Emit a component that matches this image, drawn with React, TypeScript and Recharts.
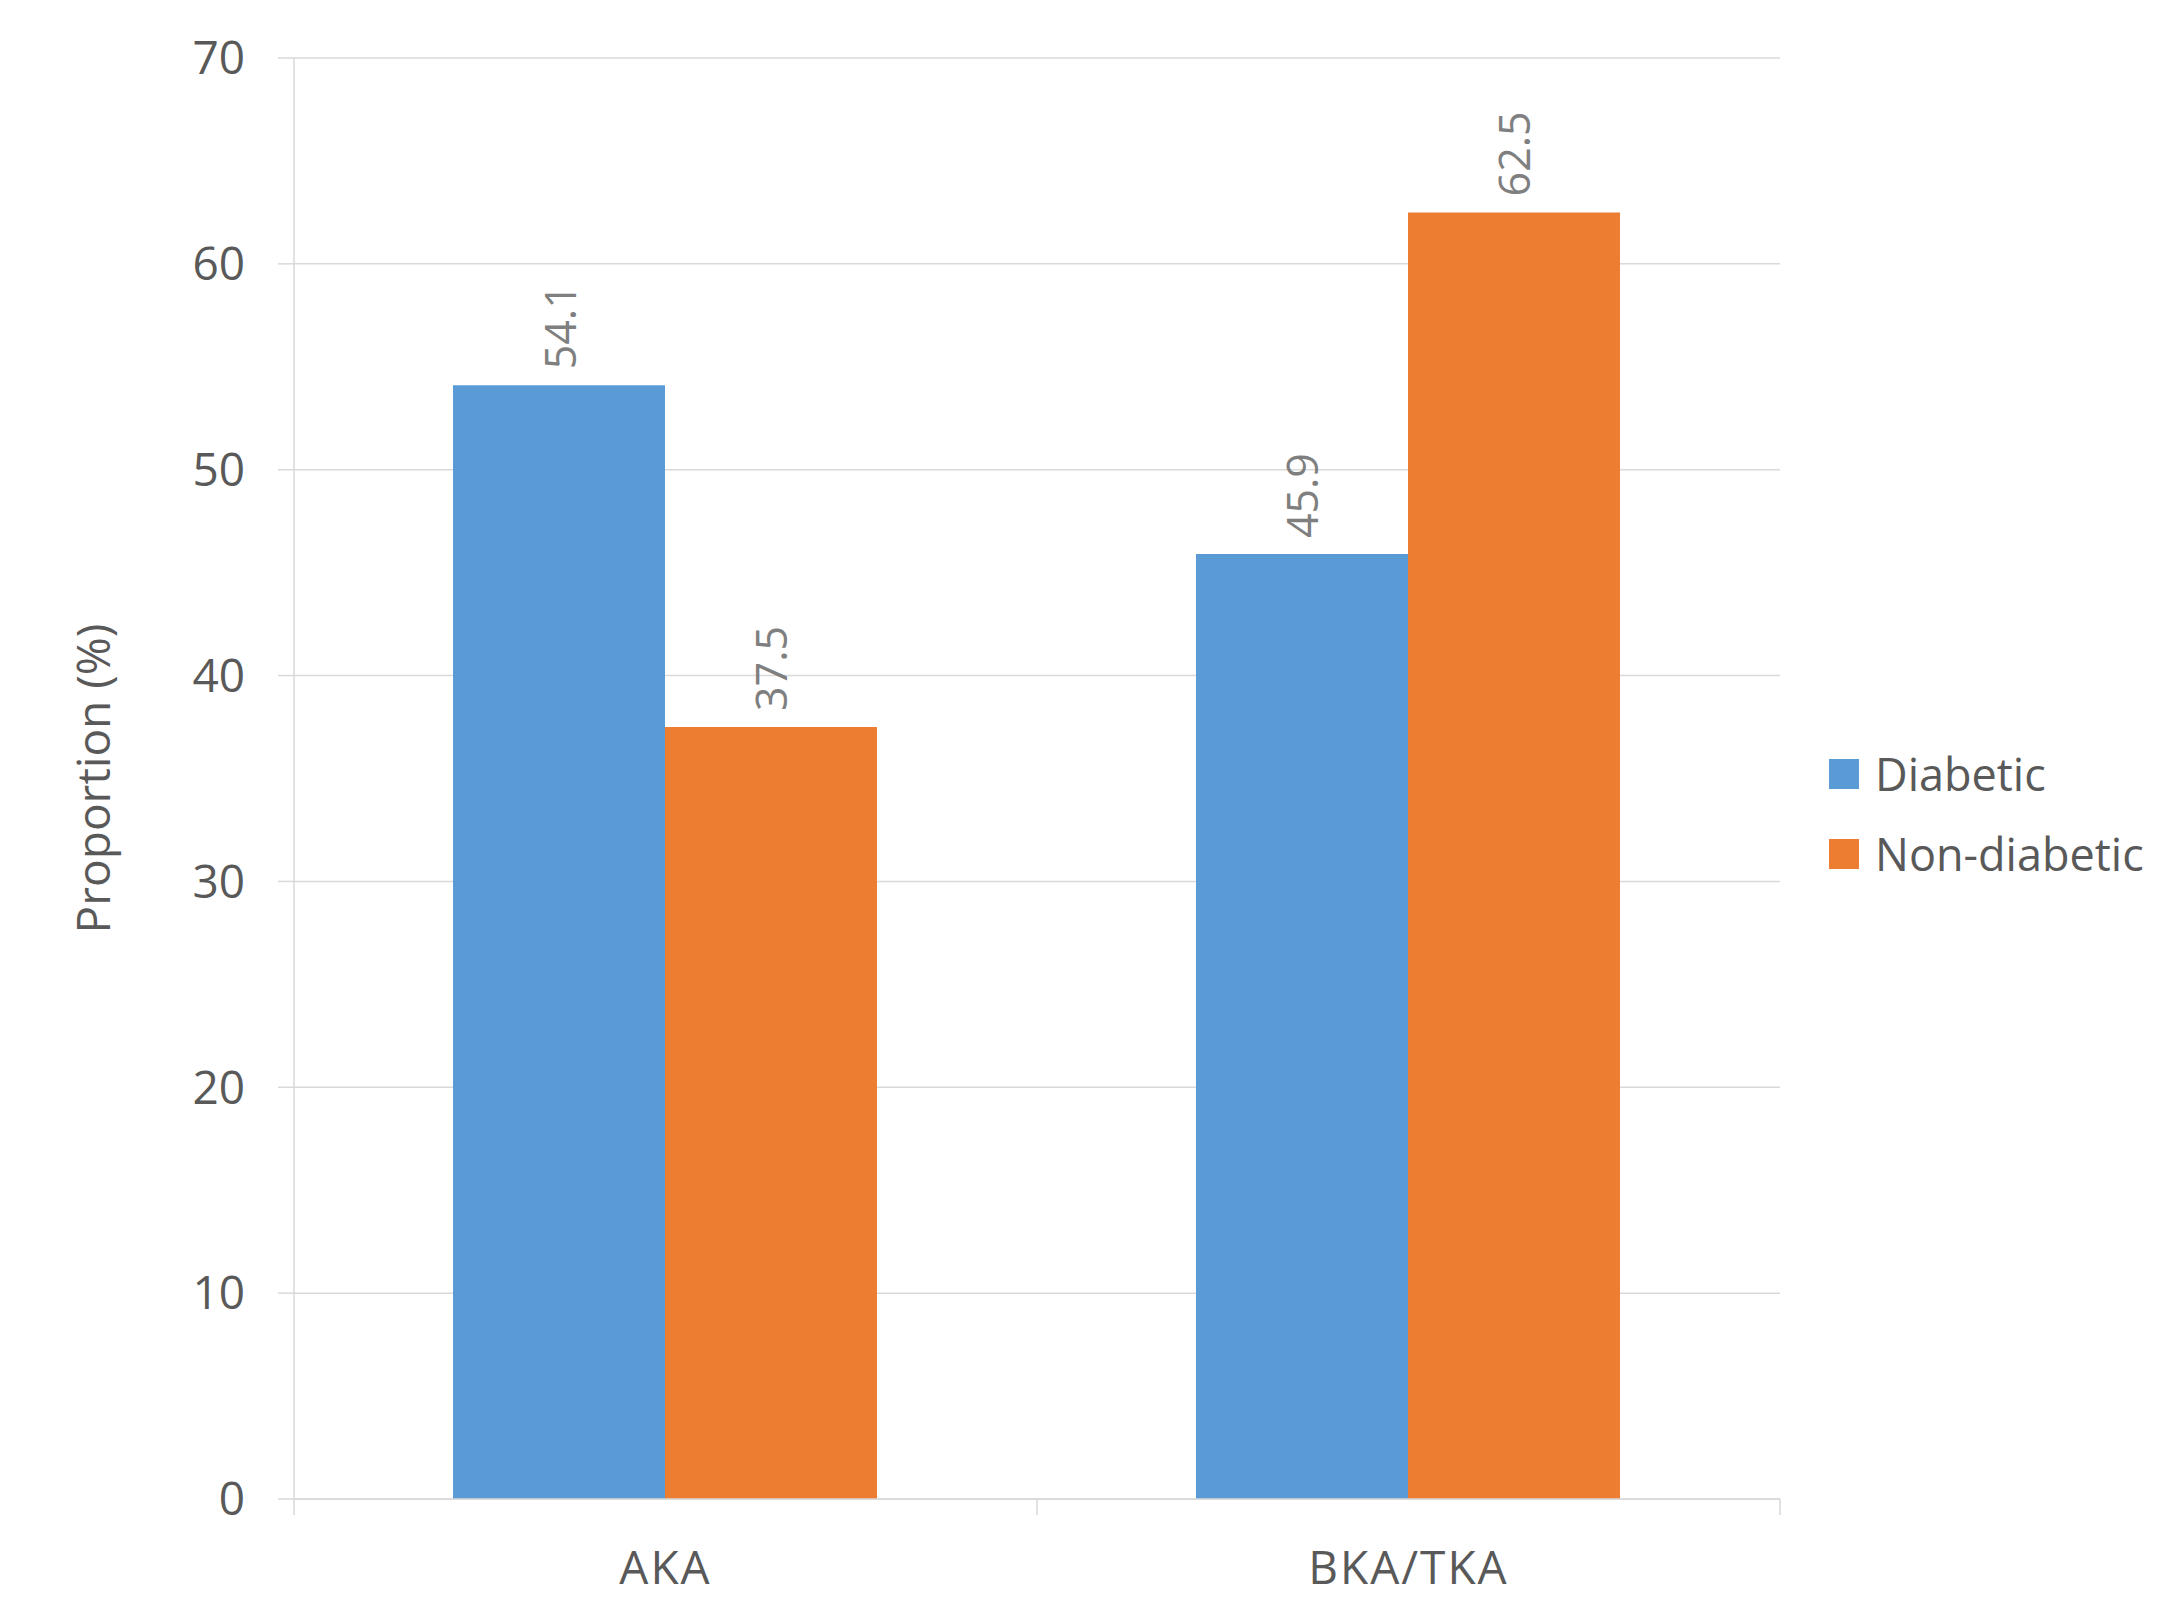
import React from 'react';
import { BarChart, Bar, XAxis, YAxis, CartesianGrid, Legend, LabelList, Label } from 'recharts';

const categories = ['AKA', 'BKA/TKA'];
const diabetic = [54.1, 45.9];
const nonDiabetic = [37.5, 62.5];
const yTicks = [0, 10, 20, 30, 40, 50, 60, 70];
const seriesNames = ['Diabetic', 'Non-diabetic'];
const seriesColors = ['#5B9BD5', '#ED7D31'];

const data = categories.map((c, i) => ({ category: c, diabetic: diabetic[i], nonDiabetic: nonDiabetic[i] }));

const FONT = '"Open Sans", "Noto Sans", sans-serif';
const TEXT = '#595959';
const GRID = '#d9d9d9';
const X_TICK_SIZE = 16;
const X_TICK_MARGIN = 36;

const ValueLabel = (props: any) => {
  const { x, y, width, value } = props;
  const cx = Number(x) + Number(width) / 2;
  const ty = Number(y) - 16;
  return (
    <text
      x={cx}
      y={ty}
      transform={`rotate(-90 ${cx} ${ty})`}
      textAnchor="start"
      dominantBaseline="central"
      fill="#7f7f7f"
      fontSize={43}
      fontFamily={FONT}
    >
      {value}
    </text>
  );
};

const CategoryTick = (props: any) => {
  const { x, y, payload, index, visibleTicksCount } = props;
  const half = Number(payload && payload.offset) || 0;
  const axisY = Number(y) - X_TICK_SIZE - X_TICK_MARGIN;
  const isLast = index === (visibleTicksCount ?? categories.length) - 1;
  return (
    <g>
      <line x1={x - half} x2={x - half} y1={axisY} y2={axisY + X_TICK_SIZE} stroke={GRID} strokeWidth={1.5} />
      {isLast && (
        <line x1={x + half} x2={x + half} y1={axisY} y2={axisY + X_TICK_SIZE} stroke={GRID} strokeWidth={1.5} />
      )}
      <text
        x={x}
        y={y}
        dy="0.71em"
        textAnchor="middle"
        fill={TEXT}
        fontSize={46}
        fontFamily={FONT}
        letterSpacing={2}
      >
        {payload.value}
      </text>
    </g>
  );
};

const LegendContent = (props: any) => {
  const payload = props.payload && props.payload.length ? props.payload : seriesNames.map((n, i) => ({ value: n, color: seriesColors[i] }));
  return (
    <div style={{ fontFamily: FONT }}>
      {payload.map((p: any, i: number) => (
        <div key={i} style={{ display: 'flex', alignItems: 'center', height: 80 }}>
          <div style={{ width: 30, height: 30, background: p.color, marginRight: 16, flexShrink: 0 }} />
          <span style={{ fontSize: 45, color: TEXT, whiteSpace: 'nowrap', lineHeight: '60px' }}>{p.value}</span>
        </div>
      ))}
    </div>
  );
};

export default function App() {
  return (
    <div style={{ position: 'absolute', left: 0, top: 0, width: 2158, height: 1597, background: '#fff' }}>
      <BarChart
        width={2158}
        height={1597}
        data={data}
        margin={{ top: 58, right: 378, left: 0, bottom: 0 }}
        barCategoryGap="21.4%"
        barGap={0}
      >
        <CartesianGrid vertical={false} stroke={GRID} strokeWidth={1.5} />
        <XAxis
          dataKey="category"
          height={98}
          axisLine={{ stroke: GRID, strokeWidth: 1.5 }}
          tickLine={false}
          tickSize={X_TICK_SIZE}
          tickMargin={X_TICK_MARGIN}
          tick={<CategoryTick />}
        />
        <YAxis
          width={294}
          domain={[0, 70]}
          ticks={yTicks}
          axisLine={{ stroke: GRID, strokeWidth: 1.5 }}
          tickLine={{ stroke: GRID, strokeWidth: 1.5 }}
          tickSize={16}
          tickMargin={33}
          tick={{ fill: TEXT, fontSize: 46, fontFamily: FONT }}
        >
          <Label
            value="Proportion (%)"
            angle={-90}
            position="center"
            dx={-53}
            style={{ fill: TEXT, fontSize: 46, fontFamily: FONT }}
          />
        </YAxis>
        <Legend
          layout="vertical"
          align="center"
          verticalAlign="middle"
          wrapperStyle={{ left: 1829, top: 734, width: 329 }}
          content={<LegendContent />}
        />
        <Bar dataKey="diabetic" name={seriesNames[0]} fill={seriesColors[0]} isAnimationActive={false}>
          <LabelList dataKey="diabetic" content={<ValueLabel />} />
        </Bar>
        <Bar dataKey="nonDiabetic" name={seriesNames[1]} fill={seriesColors[1]} isAnimationActive={false}>
          <LabelList dataKey="nonDiabetic" content={<ValueLabel />} />
        </Bar>
      </BarChart>
    </div>
  );
}
